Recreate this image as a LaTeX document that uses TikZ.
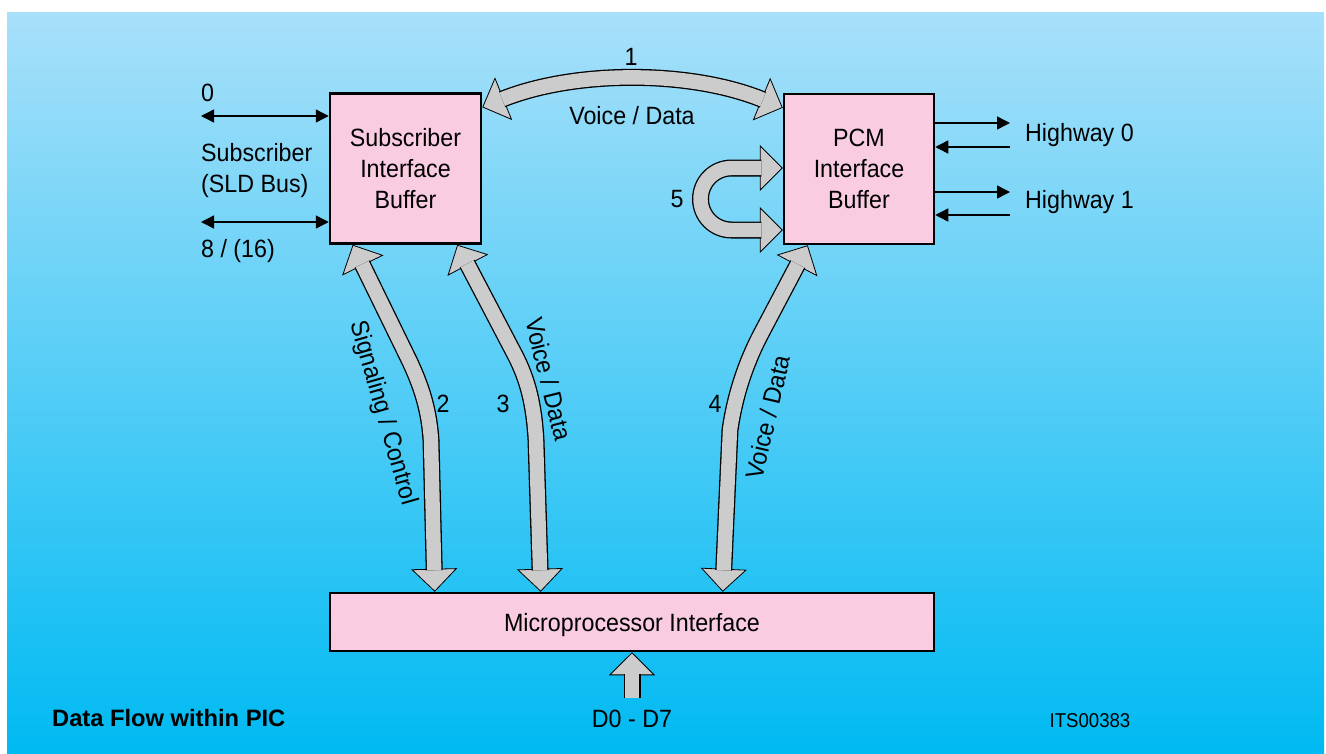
\documentclass[tikz,border=0pt]{standalone}
\usepackage{fontspec}
\setmainfont{Liberation Sans}[FakeStretch=0.93]
\newfontfamily\captionfont{Liberation Sans}
\usetikzlibrary{arrows.meta,calc}

\definecolor{boxpink}{RGB}{249,204,225}
\definecolor{shaftgray}{RGB}{204,204,204}
\definecolor{bgtop}{RGB}{168,224,250}
\definecolor{bgbottom}{RGB}{0,186,242}

\tikzset{
  buffer/.style={draw=black, line width=2.5pt, fill=boxpink, inner sep=0pt, align=center, text depth=0pt},
  lbl/.style={inner sep=0pt},
  busline/.style={line width=1.4pt, >={Triangle[length=13pt,width=13pt]}},
  fathead/.style={line width=0.8pt, draw=black, >={Triangle[length=23pt,width=46pt,fill=shaftgray]}},
  fatedge/.style={line width=17pt, draw=black},
  fatcore/.style={line width=14.4pt, draw=shaftgray},
  trimboth/.style={shorten <=21.5pt, shorten >=21.5pt},
  trimend/.style={shorten >=21.5pt},
}

% wide grey arrow: heads, black edge, grey core
\newcommand{\fatarrow}[3]{%
  \draw[fathead,#1] #3;
  \draw[fatedge,#2] #3;
  \draw[fatcore,#2] #3;}

\begin{document}
\begin{tikzpicture}[x=1pt, y=-1pt, font=\fontsize{25}{31}\selectfont]
  % Background
  \useasboundingbox (0,0) rectangle (1326,753);
  \fill[white] (0,0) rectangle (1326,753);
  \shade[top color=bgtop, bottom color=bgbottom] (7,12) rectangle (1324,753);

  % Blocks
  \node[buffer, minimum width=151pt, minimum height=150pt] (sib) at (405.5,168.5) {Subscriber\\Interface\\Buffer};
  \node[buffer, minimum width=150pt, minimum height=150pt] (pcm) at (859,169) {PCM\\Interface\\Buffer};
  \node[buffer, minimum width=604pt, minimum height=58pt] (mpi) at (632,622) {Microprocessor Interface};

  % Subscriber bus
  \coordinate (sbus0) at (201,116);
  \coordinate (sbus8) at (201,222);
  \draw[busline, <->] (sbus0) -- (sbus0 -| sib.west);
  \draw[busline, <->] (sbus8) -- (sbus8 -| sib.west);
  \node[lbl, anchor=west] (lbl0) at (201,93) {0};
  \node[lbl, anchor=west, align=left] (sldbus) at (201,171) {Subscriber\\(SLD Bus)};
  \node[lbl, anchor=west] (lbl8) at (201,251) {8 / (16)};

  % Highways
  \coordinate (hw0out) at (1010,123);
  \coordinate (hw0in) at (1010,147);
  \coordinate (hw1out) at (1010,192);
  \coordinate (hw1in) at (1010,215);
  \draw[busline, ->] (hw0out -| pcm.east) -- (hw0out);
  \draw[busline, ->] (hw0in) -- (hw0in -| pcm.east);
  \draw[busline, ->] (hw1out -| pcm.east) -- (hw1out);
  \draw[busline, ->] (hw1in) -- (hw1in -| pcm.east);
  \node[lbl, anchor=west] (hw0) at (1025,135) {Highway 0};
  \node[lbl, anchor=west] (hw1) at (1025,202) {Highway 1};

  % Data paths
  \fatarrow{<->}{trimboth}{($(sib.north east)+(0,15)$) .. controls (575,70) and (690,70) .. ($(pcm.north west)+(0,15)$)}
  \fatarrow{<->}{trimboth}{($(sib.south west)+(24,0)$) -- (410,362) .. controls (422,388) and (429,410) .. (431,440) -- ($(mpi.north west)+(106,0)$)}
  \fatarrow{<->}{trimboth}{($(sib.south east)+(-25,0)$) -- (515,355) .. controls (528,380) and (534,405) .. (536,440) -- ($(mpi.north west)+(212,0)$)}
  \fatarrow{<->}{trimboth}{($(pcm.south west)+(25,0)$) -- (762,332) .. controls (746,362) and (735,395) .. (730,430) -- ($(mpi.north west)+(394,0)$)}
  \fatarrow{<->}{trimboth}{($(pcm.west)+(0,-1)$) -- (731.5,168) arc[start angle=-90, end angle=-270, radius=31] -- ($(pcm.west)+(0,61)$)}
  \coordinate (dbus) at (632,698);
  \fatarrow{->}{trimend}{(dbus) -- (mpi.south)}

  % Path labels
  \node[lbl] (p1) at (631,57) {1};
  \node[lbl] (vd1) at (632,116) {Voice / Data};
  \node[lbl] (p2) at (443,404) {2};
  \node[lbl] (p3) at (503,404) {3};
  \node[lbl] (p4) at (715,404) {4};
  \node[lbl] (p5) at (677,199) {5};
  \node[lbl, rotate=-74] (sigctl) at (383,413) {Signaling / Control};
  \node[lbl, rotate=-76] (vd3) at (549,379) {Voice / Data};
  \node[lbl, rotate=77] (vd4) at (768,417) {Voice / Data};
  \node[lbl] (dlines) at (632,719) {D0 - D7};

  % Caption
  \node[lbl, anchor=west, font=\captionfont\bfseries\fontsize{23.7}{28}\selectfont] (title) at (52,718) {Data Flow within PIC};
  \node[lbl, font=\fontsize{20}{24}\selectfont] (docid) at (1090,721) {ITS00383};
\end{tikzpicture}
\end{document}
